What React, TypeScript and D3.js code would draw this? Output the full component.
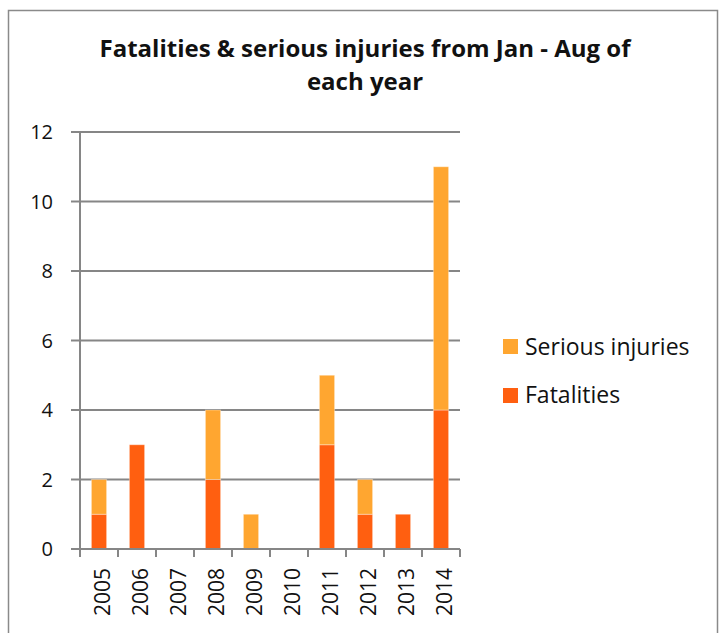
import React from "react";
import * as d3 from "d3";

const years = ["2005", "2006", "2007", "2008", "2009", "2010", "2011", "2012", "2013", "2014"];
const fatalities = [1, 3, 0, 2, 0, 0, 3, 1, 1, 4];
const seriousInjuries = [1, 0, 0, 2, 1, 0, 2, 1, 0, 7];
const yTicks = [0, 2, 4, 6, 8, 10, 12];
const seriesNames = ["Fatalities", "Serious injuries"];
const colors = { Fatalities: "#FF5F10", "Serious injuries": "#FFA630" };

export default function App() {
  const W = 722, H = 633;
  const left = 80, right = 460, top = 132, bottom = 549;
  const x = d3.scaleBand().domain(years).range([left, right]).paddingInner(0.6).paddingOuter(0.3);
  const xb = d3.scaleBand().domain(years).range([left, right]);
  const y = d3.scaleLinear().domain([0, 12]).range([bottom, top]);
  const rows = years.map((yr, i) => ({ year: yr, Fatalities: fatalities[i], "Serious injuries": seriousInjuries[i] }));
  const stack = d3.stack<any>().keys(seriesNames)(rows);
  const font = "'Open Sans', Lato, sans-serif";
  const grid = "#868686";
  return (
    <svg width={W} height={H} style={{ position: "absolute", left: 0, top: 0 }} fontFamily={font}>
      <rect x={0} y={0} width={W} height={H} fill="#fff" />
      <rect x={8.5} y={10.5} width={709} height={640} fill="none" stroke="#8a8a8a" strokeWidth={1.5} />
      <text x={365} y={57} textAnchor="middle" fontSize={24} fontWeight="bold" fill="#111">
        Fatalities &amp; serious injuries from Jan - Aug of
      </text>
      <text x={365} y={90} textAnchor="middle" fontSize={24} fontWeight="bold" fill="#111">
        each year
      </text>
      {yTicks.map((t) => (
        <g key={t}>
          {t > 0 && <line x1={left} x2={right} y1={y(t)} y2={y(t)} stroke={grid} strokeWidth={2} />}
          <line x1={left - 9} x2={left} y1={y(t)} y2={y(t)} stroke={grid} strokeWidth={2} />
          <text x={53} y={y(t) + 7} textAnchor="end" fontSize={20} fill="#111">{t}</text>
        </g>
      ))}
      {stack.map((s) => (
        <g key={s.key}>
          {s.map((d, i) =>
            d[1] - d[0] > 0 ? (
              <rect key={i} x={x(years[i])!} width={x.bandwidth()} y={y(d[1])} height={y(d[0]) - y(d[1])}
                fill={(colors as any)[s.key]} stroke="#ffffff" strokeOpacity={0.35} strokeWidth={1} />
            ) : null
          )}
        </g>
      ))}
      <line x1={left} x2={left} y1={top} y2={bottom} stroke={grid} strokeWidth={2} />
      <line x1={left} x2={right} y1={bottom} y2={bottom} stroke={grid} strokeWidth={2} />
      {years.concat(["end"]).map((yr, i) => {
        const xx = i < years.length ? xb(yr)! : right;
        return <line key={i} x1={xx} x2={xx} y1={bottom} y2={bottom + 8} stroke={grid} strokeWidth={2} />;
      })}
      {years.map((yr) => (
        <text key={yr} transform={`translate(${x(yr)! + x.bandwidth() / 2 + 11},568) rotate(-90)`}
          textAnchor="end" fontSize={21} fill="#111">{yr}</text>
      ))}
      {[...seriesNames].reverse().map((n, i) => (
        <g key={n}>
          <rect x={503} y={339 + i * 49} width={15} height={15} fill={(colors as any)[n]} />
          <text x={525} y={355 + i * 48} fontSize={23} fill="#111">{n}</text>
        </g>
      ))}
    </svg>
  );
}
